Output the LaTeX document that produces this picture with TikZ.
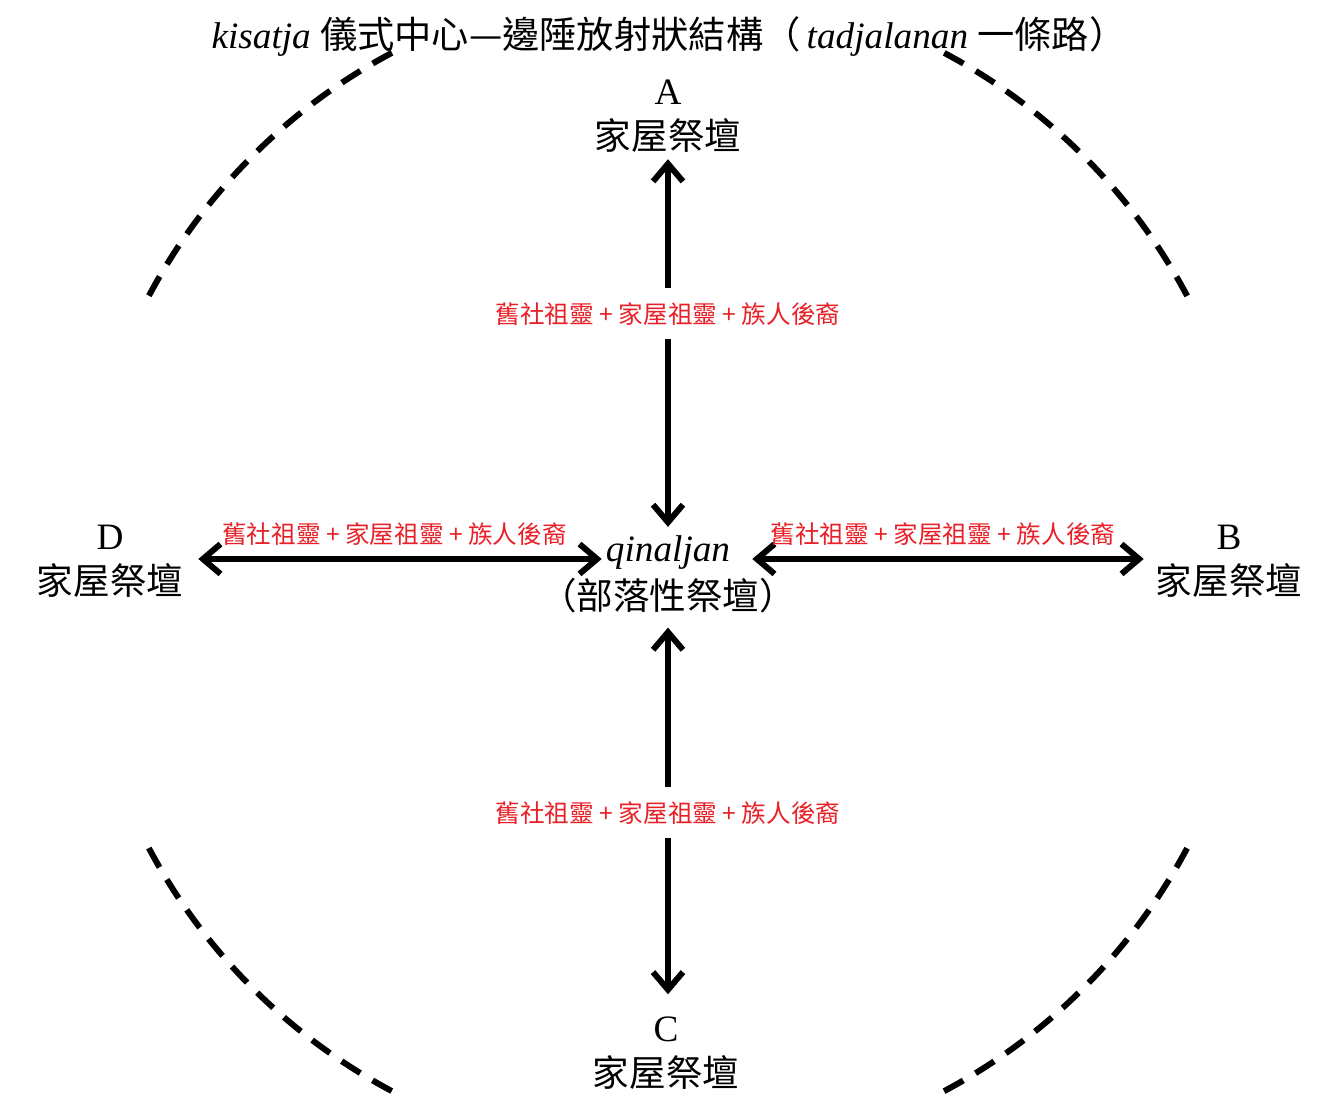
\documentclass[tikz,border=0pt]{standalone}
\usepackage{fontspec}
\setmainfont{Liberation Serif}
\newfontfamily\cjk{Noto Sans CJK TC}
\usetikzlibrary{positioning,arrows.meta}
\definecolor{spiritred}{RGB}{232,32,40}

\begin{document}
\begin{tikzpicture}[every node/.style={inner sep=1pt,font=\fontsize{10.6}{12}\selectfont},
	altar/.style={font=\fontsize{10.4}{12}\selectfont\cjk},
	flow/.style={font=\fontsize{7}{8}\selectfont\cjk,text=spiritred},
	link/.style={{Straight Barb[length=5pt,width=8.5pt]}-{Straight Barb[length=5pt,width=8.5pt]},
		line width=1.7pt,line cap=round,line join=round},
	rim/.style={line width=1.7pt,dash pattern=on 0.22cm off 0.143cm}]
\useasboundingbox (0,0) rectangle (13.39,11.17);
\coordinate (cen) at (6.68,5.45);
% title
\node (title) at (6.69,10.80) {\textit{kisatja} {\cjk 儀式中心—邊陲放射狀結構（}\,\textit{tadjalanan} {\cjk 一條路）}};
% centre altar
\node (qin) at (6.68,5.64) {\textit{qinaljan}};
\node[altar] (tribal) at (6.68,5.21) {（部落性祭壇）};
% house altars
\node[altar] (altA) at (6.68,9.82) {家屋祭壇};
\node[above=0.05cm of altA] (labA) {A};
\node[altar] (altC) at (6.66,0.45) {家屋祭壇};
\node[above=0.05cm of altC] (labC) {C};
\node[altar] (altD) at (1.10,5.37) {家屋祭壇};
\node[above=0.05cm of altD] (labD) {D};
\node[altar] (altB) at (12.29,5.37) {家屋祭壇};
\node[above=0.05cm of altB] (labB) {B};
% paths
\draw[link,shorten <=0.03cm,shorten >=0.05cm] (altA) -- node[flow,fill=white,pos=0.42,inner sep=4pt] {舊社祖靈 + 家屋祖靈 + 族人後裔} (qin);
\draw[link,shorten <=0.1cm,shorten >=0.18cm] (tribal.south) -- node[flow,fill=white,pos=0.495,inner sep=4pt] {舊社祖靈 + 家屋祖靈 + 族人後裔} (tribal.south |- labC.north);
\draw[link,shorten >=0.11cm] ([yshift=-0.06cm]qin.west) -- node[flow,above=2pt] {舊社祖靈 + 家屋祖靈 + 族人後裔} ([yshift=-0.06cm]qin.west -| altD.east);
\draw[link,shorten <=0.18cm,shorten >=0.08cm] ([yshift=-0.06cm]qin.east) -- node[flow,above=2pt] {舊社祖靈 + 家屋祖靈 + 族人後裔} ([yshift=-0.06cm]qin.east -| altB.west);
% boundary
\foreach \a in {28,118,208,298}
	\draw[rim] (cen) ++(\a:5.88) arc[start angle=\a,end angle=\a+34,radius=5.88];
\end{tikzpicture}
\end{document}
